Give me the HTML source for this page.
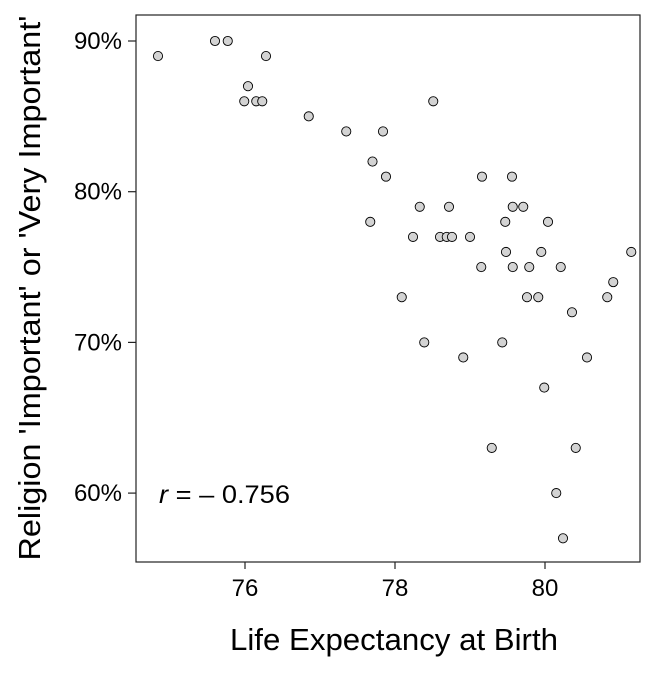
<!DOCTYPE html>
<html><head><meta charset="utf-8"><style>
body{margin:0;background:#fff}
svg text{font-family:"Liberation Sans",sans-serif;fill:#000}
</style></head><body>
<svg width="672" height="672" id="c">
<rect x="136" y="15" width="504" height="547" fill="#fff" stroke="#222" stroke-width="1.2"/>
<text transform="translate(40,288) rotate(-90)" x="0" y="0" font-size="31" text-anchor="middle" textLength="545" lengthAdjust="spacingAndGlyphs">Religion 'Important' or 'Very Important'</text>
<text x="394" y="650" font-size="31" text-anchor="middle" textLength="328" lengthAdjust="spacingAndGlyphs">Life Expectancy at Birth</text>
<text x="159" y="503" font-size="25" textLength="131" lengthAdjust="spacingAndGlyphs"><tspan font-style="italic">r</tspan> = – 0.756</text>
<g id="ticks"></g><g id="pts"></g>
</svg>
<script>
const xVals=[74.84,75.6,75.77,76.04,75.99,76.15,76.23,76.28,76.85,77.35,77.84,77.7,77.88,77.67,78.33,78.24,78.51,78.72,78.6,78.69,78.76,79,79.16,79.15,78.09,78.39,78.91,79.29,79.43,79.48,79.47,79.56,79.57,79.57,79.71,79.79,79.76,79.91,79.95,80.04,79.99,80.21,80.15,80.24,80.36,80.41,80.56,80.83,80.91,81.15];
const yVals=[89,90,90,87,86,86,86,89,85,84,84,82,81,78,79,77,86,79,77,77,77,77,81,75,73,70,69,63,70,76,78,81,79,75,79,75,73,73,76,78,67,75,60,57,72,63,69,73,74,76];
const xTicks=[76,78,80];
const yTicks=[60,70,80,90];
const xs=v=>245+(v-76)*75;
const ys=v=>41+(90-v)*15.07;
const NS="http://www.w3.org/2000/svg";
const tg=document.getElementById('ticks'),pg=document.getElementById('pts');
function mk(t,a,p){const e=document.createElementNS(NS,t);for(const k in a)e.setAttribute(k,a[k]);p.appendChild(e);return e;}
xTicks.forEach(t=>{
 const l=mk('line',{x1:xs(t),x2:xs(t),y1:562,y2:569,stroke:'#222','stroke-width':1.2},tg);
 
 
 const tx=mk('text',{x:xs(t),y:596,'font-size':24,'text-anchor':'middle'},tg);tx.textContent=t;
 
 
});
yTicks.forEach(t=>{
 const l=mk('line',{x1:128,x2:136,y1:ys(t),y2:ys(t),stroke:'#222','stroke-width':1.2},tg);
 
 
 const tx=mk('text',{x:122,y:ys(t)+8,'font-size':24,'text-anchor':'end'},tg);tx.textContent=t+'%';
 
 
});
xVals.forEach((v,i)=>{
 const c=mk('circle',{cx:xs(v),cy:ys(yVals[i]),r:4.6,fill:'#d3d3d3',stroke:'#000','stroke-width':0.9},pg);
 
 
});
</script>
</body></html>
